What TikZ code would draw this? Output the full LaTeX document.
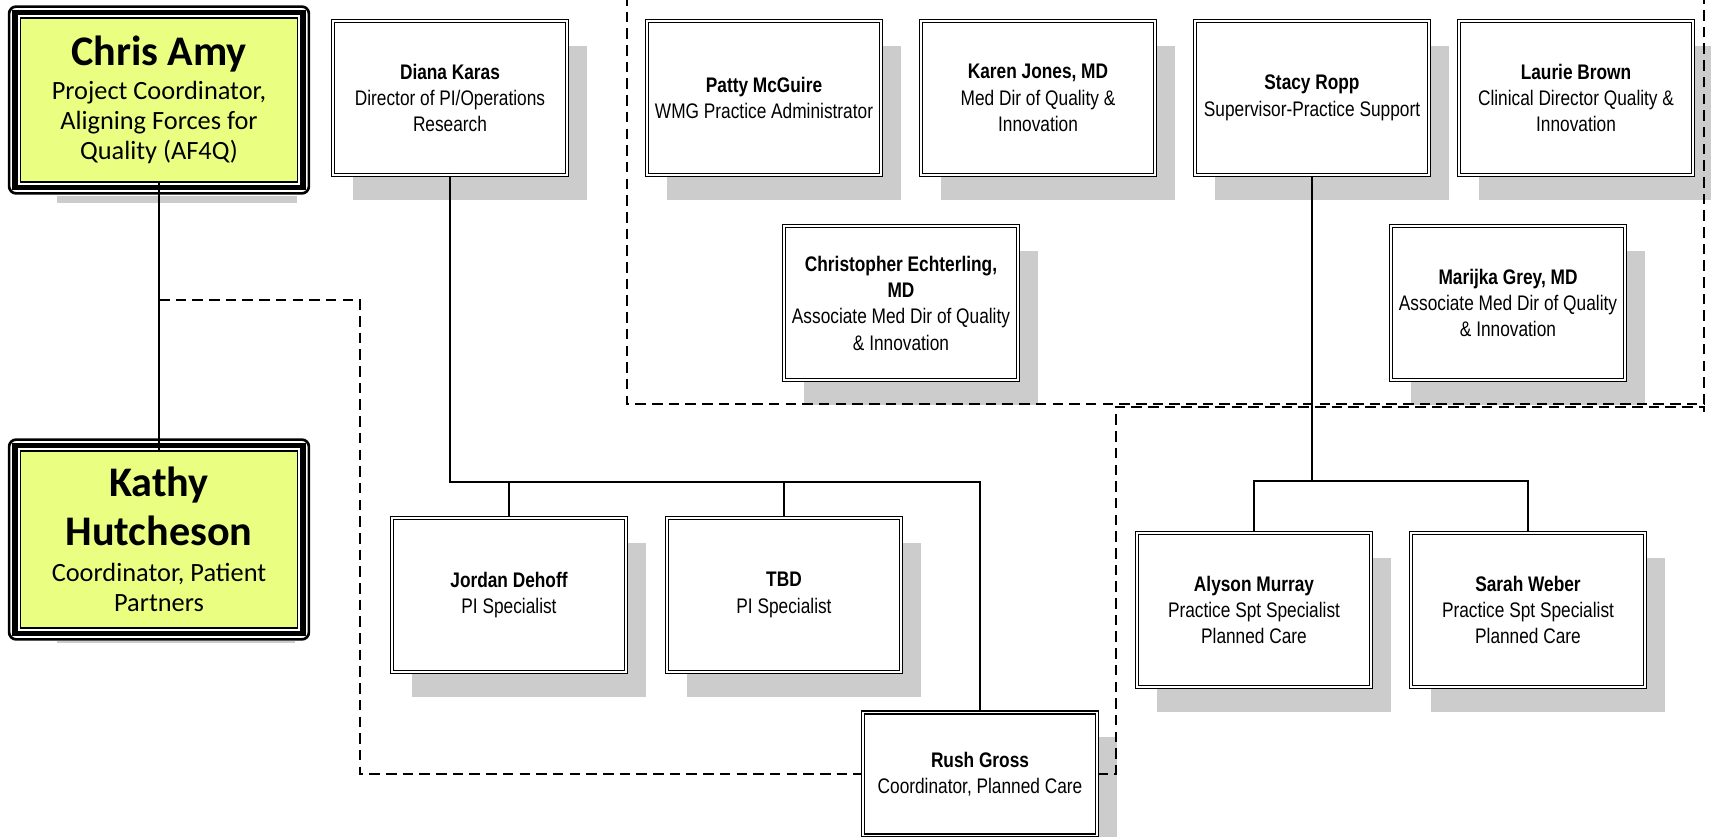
\documentclass[tikz,border=0pt]{standalone}
\usepackage{fontspec}
\newfontfamily\narrowsans[FakeStretch=0.82]{Liberation Sans}
\newfontfamily\calsans{Carlito}
\usepackage{tikz}
\usetikzlibrary{shadows}
\definecolor{afqyellow}{RGB}{234,255,130}
\definecolor{shadowgray}{RGB}{204,204,204}

\begin{document}
\begin{tikzpicture}[
    x=0.02cm, y=-0.02cm,
    box/.style   = {rectangle, draw, double, line width=0.9pt, double distance=0.8pt,
                    fill=white, minimum width=4.68cm, minimum height=3.08cm,
                    align=center, inner sep=2pt,
                    font=\narrowsans\fontsize{12}{15}\selectfont,
                    drop shadow={shadow xshift=11.3pt, shadow yshift=-14pt,
                                 fill=shadowgray, opacity=1}},
    ybox/.style  = {rectangle, draw, line width=1.1pt, fill=afqyellow, outer sep=0pt,
                    minimum width=5.54cm, align=center,
                    font=\calsans\fontsize{15}{17}\selectfont},
    link/.style  = {line width=0.75pt},
    grp/.style   = {line width=0.8pt, dash pattern=on 6pt off 3.5pt}
]
\useasboundingbox (0,0) rectangle (1711,837);
\clip (0,0) rectangle (1711,837);
\fill[white] (0,0) rectangle (1711,837);

\node[ybox, minimum height=3.28cm] (chris) at (159,100)
  {{\fontsize{24}{28}\selectfont\bfseries Chris Amy}\\[2.5pt]
   Project Coordinator,\\ Aligning Forces for\\ Quality (AF4Q)};
\node[ybox, minimum height=3.54cm] (kathy) at (159,539.5)
  {{\fontsize{24}{28}\selectfont\bfseries Kathy}\\[6pt]
   {\fontsize{24}{28}\selectfont\bfseries Hutcheson}\\[3.5pt]
   Coordinator, Patient\\ Partners};

\node[box] (diana)   at (450,98)   {\textbf{Diana Karas}\\Director of PI/Operations\\Research};
\node[box] (patty)   at (764,98)   {\textbf{Patty McGuire}\\WMG Practice Administrator};
\node[box] (karen)   at (1038,98)  {\textbf{Karen Jones, MD}\\Med Dir of Quality \&\\Innovation};
\node[box] (stacy)   at (1312,98)  {\textbf{Stacy Ropp}\\Supervisor-Practice Support};
\node[box] (laurie)  at (1576,98)  {\textbf{Laurie Brown}\\Clinical Director Quality \&\\Innovation};
\node[box] (echter)  at (901,303)  {\textbf{Christopher Echterling,}\\\textbf{MD}\\Associate Med Dir of Quality\\\& Innovation};
\node[box] (marijka) at (1508,303) {\textbf{Marijka Grey, MD}\\Associate Med Dir of Quality\\\& Innovation};
\node[box] (jordan)  at (509,595)  {\textbf{Jordan Dehoff}\\PI Specialist};
\node[box] (tbd)     at (784,595)  {\textbf{TBD}\\PI Specialist};
\node[box, minimum height=2.46cm] (rush) at (980,774) {\textbf{Rush Gross}\\Coordinator, Planned Care};
\node[box] (alyson)  at (1254,610) {\textbf{Alyson Murray}\\Practice Spt Specialist\\Planned Care};
\node[box] (sarah)   at (1528,610) {\textbf{Sarah Weber}\\Practice Spt Specialist\\Planned Care};

\fill[shadowgray] (57,196) rectangle (297,203);
\fill[shadowgray] (57,641) rectangle (295,643);
\foreach \n in {chris,kathy}{
  \draw[line width=3pt] ([shift={(-3.15pt,-3.15pt)}]\n.south west) rectangle ([shift={(3.15pt,3.15pt)}]\n.north east);
  \draw[line width=1.5pt, rounded corners=4pt] ([shift={(-6.5pt,-6.5pt)}]\n.south west) rectangle ([shift={(6.5pt,6.5pt)}]\n.north east);
}

\coordinate (pibus) at (450,482);
\coordinate (spbus) at (1312,481);
\coordinate (lk)    at (159,300);
\draw[link] (chris.south) -- (kathy.north);
\draw[link] (diana.south) -- (pibus) -| (rush.north);
\draw[link] (jordan.north) -- (jordan.north |- pibus);
\draw[link] (tbd.north) -- (tbd.north |- pibus);
\draw[link] (stacy.south) -- (spbus);
\draw[link] (alyson.north) |- (spbus) -| (sarah.north);

\draw[grp] (627,-5) -- (627,404) -- (1704,404) -- (1704,-5);
\draw[grp] (lk) -| (360,774) -- (rush.west);
\draw[grp] (rush.east) -| (1116,407) -- (1704,407) -- (1704,418);
\end{tikzpicture}
\end{document}
